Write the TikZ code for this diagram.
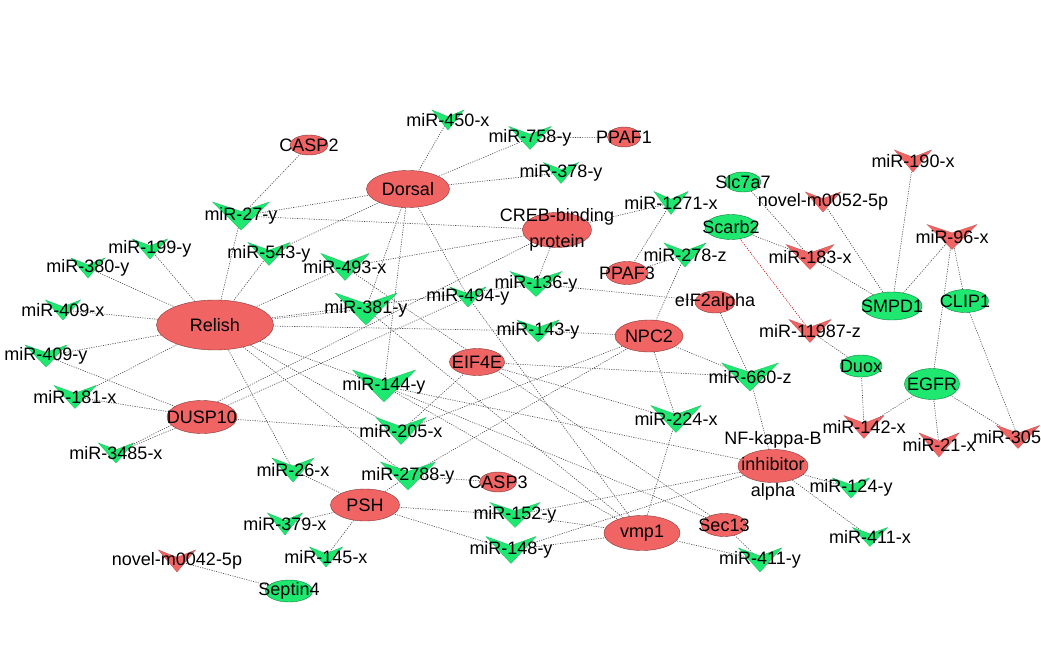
\documentclass[tikz,border=0pt]{standalone}
\usepackage{fontspec}
\setmainfont{Liberation Sans}
\definecolor{nred}{RGB}{240,100,100}
\definecolor{ngreen}{RGB}{30,232,112}
\definecolor{edgec}{RGB}{70,70,70}
\pgfdeclarelayer{bg}
\pgfdeclarelayer{fg}
\pgfsetlayers{bg,main,fg}
\tikzset{
  edge/.style={draw=edgec, line width=0.6pt, dash pattern=on 1.1pt off 1.3pt},
  redge/.style={edge, draw=red!80!black},
  lbl/.style={font=\fontsize{18}{26}\selectfont, inner sep=0pt, text=black, align=center},
}
% V-shaped miRNA node: name, width, height, colour, label
\newcommand{\vnode}[5]{%
  \filldraw[fill=#4, draw=#4!80!black, line width=0.3pt, shift={(#1)}]
    ({-#2/2},{-#3/2}) -- (0,{-#3/6}) -- ({#2/2},{-#3/2}) -- (0,{#3/2}) -- cycle;
  \begin{pgfonlayer}{fg}\node[lbl] at (#1) {#5};\end{pgfonlayer}}
% ellipse mRNA node: name, width, height, colour, label
\newcommand{\enode}[5]{%
  \filldraw[fill=#4, draw=#4!55!black, line width=0.4pt] (#1) ellipse [x radius={#2/2*1pt}, y radius={#3/2*1pt}];
  \begin{pgfonlayer}{fg}\node[lbl] at (#1) {#5};\end{pgfonlayer}}
\begin{document}
\begin{tikzpicture}[x=1pt, y=-1pt]
\useasboundingbox (0,0) rectangle (1041,655);
% ---------- positions: mRNA ----------
\coordinate (CASP2) at (309,145);
\coordinate (Dorsal) at (408,189);
\coordinate (Relish) at (215,325);
\coordinate (CREB) at (557,230);
\coordinate (PPAF1) at (624,137);
\coordinate (PPAF3) at (627,273);
\coordinate (eIF2) at (715,302);
\coordinate (NPC2) at (649,336);
\coordinate (EIF4E) at (477,362);
\coordinate (DUSP10) at (202,417);
\coordinate (NFKB) at (773,466);
\coordinate (CASP3) at (498,482);
\coordinate (PSH) at (365,505);
\coordinate (vmp1) at (642,533);
\coordinate (Sec13) at (724,525);
\coordinate (Slc7a7) at (743,182);
\coordinate (Scarb2) at (731,227);
\coordinate (SMPD1) at (892,306);
\coordinate (CLIP1) at (965,301);
\coordinate (Duox) at (861,366);
\coordinate (EGFR) at (932,384);
\coordinate (Septin4) at (289,591);
% ---------- positions: miRNA ----------
\coordinate (m450x) at (448,120);
\coordinate (m758y) at (530,138);
\coordinate (m378y) at (561,173);
\coordinate (m27y) at (241,216);
\coordinate (m199y) at (150,249);
\coordinate (m380y) at (88,268);
\coordinate (m543y) at (269,254);
\coordinate (m493x) at (345,267);
\coordinate (m409x) at (63,310);
\coordinate (m381y) at (366,309);
\coordinate (m494y) at (468,297);
\coordinate (m136y) at (536,284);
\coordinate (m1271x) at (671,203);
\coordinate (m278z) at (685,255);
\coordinate (m143y) at (538,331);
\coordinate (m409y) at (46,356);
\coordinate (m181x) at (75,397);
\coordinate (m144y) at (384,386);
\coordinate (m660z) at (750,377);
\coordinate (m205x) at (401,431);
\coordinate (m3485x) at (116,453);
\coordinate (m224x) at (676,419);
\coordinate (m26x) at (293,470);
\coordinate (m2788y) at (408,476);
\coordinate (m152y) at (515,515);
\coordinate (m379x) at (285,524);
\coordinate (m145x) at (326,557);
\coordinate (m148y) at (511,550);
\coordinate (m124y) at (851,488);
\coordinate (m411x) at (870,537);
\coordinate (m411y) at (760,560);
\coordinate (m190x) at (913,161);
\coordinate (n52) at (823,202);
\coordinate (m96x) at (952,237);
\coordinate (m183x) at (810,257);
\coordinate (m11987z) at (810,331);
\coordinate (m142x) at (864,427);
\coordinate (m21x) at (939,445);
\coordinate (m305) at (1018,437);
\coordinate (m305lbl) at (1007,437);
\coordinate (n42) at (177,561);
% ---------- edges ----------
\begin{pgfonlayer}{bg}
\fill[white] (0,0) rectangle (1041,655);
\draw[edge] (CASP2) -- (m27y);
\foreach \m in {m450x,m758y,m378y,m27y,m543y,m381y,m144y,m494y} \draw[edge] (Dorsal) -- (\m);
\draw[edge] (PPAF1) -- (m758y);
\foreach \m in {m199y,m380y,m409x,m409y,m181x,m27y,m543y,m493x,m381y,m136y,m143y,m144y,m26x,m205x,m2788y} \draw[edge] (Relish) -- (\m);
\foreach \m in {m27y,m493x,m1271x,m136y,m3485x} \draw[edge] (CREB) -- (\m);
\foreach \m in {m409y,m181x,m3485x,m205x,m494y} \draw[edge] (DUSP10) -- (\m);
\foreach \m in {m1271x,m278z} \draw[edge] (PPAF3) -- (\m);
\foreach \m in {m278z,m143y,m660z,m224x,m205x,m2788y} \draw[edge] (NPC2) -- (\m);
\foreach \m in {m136y,m660z} \draw[edge] (eIF2) -- (\m);
\foreach \m in {m205x,m660z,m224x} \draw[edge] (EIF4E) -- (\m);
\foreach \m in {m493x,m144y,m411y} \draw[edge] (Sec13) -- (\m);
\foreach \m in {m660z,m144y,m152y,m148y,m124y,m411x} \draw[edge] (NFKB) -- (\m);
\draw[edge] (CASP3) -- (m2788y);
\foreach \m in {m26x,m379x,m145x,m2788y,m152y,m148y} \draw[edge] (PSH) -- (\m);
\foreach \m in {m494y,m381y,m144y,m224x,m152y,m148y,m411y} \draw[edge] (vmp1) -- (\m);
\draw[edge] (Septin4) -- (n42);
\draw[edge] (Slc7a7) -- (m183x);
\draw[edge] (Scarb2) -- (m183x);
\draw[redge] (Scarb2) -- (m11987z);
\foreach \m in {m190x,n52,m183x,m96x} \draw[edge] (SMPD1) -- (\m);
\foreach \m in {m96x,m305} \draw[edge] (CLIP1) -- (\m);
\foreach \m in {m11987z,m142x} \draw[edge] (Duox) -- (\m);
\foreach \m in {m96x,m142x,m21x,m305} \draw[edge] (EGFR) -- (\m);
\end{pgfonlayer}
% ---------- mRNA nodes ----------
\enode{CASP2}{38}{20}{nred}{CASP2}
\enode{Dorsal}{83}{37}{nred}{Dorsal}
\enode{Relish}{117}{50}{nred}{Relish}
\enode{CREB}{69}{35}{nred}{CREB-binding\\protein}
\enode{PPAF1}{33}{20}{nred}{PPAF1}
\enode{PPAF3}{42}{23}{nred}{PPAF3}
\enode{eIF2}{40}{22}{nred}{eIF2alpha}
\enode{NPC2}{68}{32}{nred}{NPC2}
\enode{EIF4E}{55}{27}{nred}{EIF4E}
\enode{DUSP10}{70}{33}{nred}{DUSP10}
\enode{NFKB}{70}{33}{nred}{NF-kappa-B\\inhibitor\\alpha}
\enode{CASP3}{37}{20}{nred}{CASP3}
\enode{PSH}{69}{32}{nred}{PSH}
\enode{vmp1}{76}{35}{nred}{vmp1}
\enode{Sec13}{45}{23}{nred}{Sec13}
\enode{Slc7a7}{36}{20}{ngreen}{Slc7a7}
\enode{Scarb2}{52}{25}{ngreen}{Scarb2}
\enode{SMPD1}{60}{28}{ngreen}{SMPD1}
\enode{CLIP1}{47}{23}{ngreen}{CLIP1}
\enode{Duox}{42}{22}{ngreen}{Duox}
\enode{EGFR}{55}{31}{ngreen}{EGFR}
\enode{Septin4}{47}{22}{ngreen}{Septin4}
% ---------- miRNA nodes ----------
\vnode{m450x}{32}{20}{ngreen}{miR-450-x}
\vnode{m758y}{42}{23}{ngreen}{miR-758-y}
\vnode{m378y}{35}{21}{ngreen}{miR-378-y}
\vnode{m27y}{57}{28}{ngreen}{miR-27-y}
\vnode{m199y}{35}{20}{ngreen}{miR-199-y}
\vnode{m380y}{34}{20}{ngreen}{miR-380-y}
\vnode{m543y}{42}{23}{ngreen}{miR-543-y}
\vnode{m493x}{48}{27}{ngreen}{miR-493-x}
\vnode{m409x}{35}{20}{ngreen}{miR-409-x}
\vnode{m381y}{62}{32}{ngreen}{miR-381-y}
\vnode{m494y}{36}{20}{ngreen}{miR-494-y}
\vnode{m136y}{52}{25}{ngreen}{miR-136-y}
\vnode{m1271x}{34}{23}{ngreen}{miR-1271-x}
\vnode{m278z}{42}{24}{ngreen}{miR-278-z}
\vnode{m143y}{42}{22}{ngreen}{miR-143-y}
\vnode{m409y}{42}{22}{ngreen}{miR-409-y}
\vnode{m181x}{42}{23}{ngreen}{miR-181-x}
\vnode{m144y}{63}{32}{ngreen}{miR-144-y}
\vnode{m660z}{57}{28}{ngreen}{miR-660-z}
\vnode{m205x}{50}{27}{ngreen}{miR-205-x}
\vnode{m3485x}{35}{20}{ngreen}{miR-3485-x}
\vnode{m224x}{50}{27}{ngreen}{miR-224-x}
\vnode{m26x}{42}{24}{ngreen}{miR-26-x}
\vnode{m2788y}{55}{28}{ngreen}{miR-2788-y}
\vnode{m152y}{50}{25}{ngreen}{miR-152-y}
\vnode{m379x}{35}{22}{ngreen}{miR-379-x}
\vnode{m145x}{33}{20}{ngreen}{miR-145-x}
\vnode{m148y}{50}{27}{ngreen}{miR-148-y}
\vnode{m124y}{37}{20}{ngreen}{miR-124-y}
\vnode{m411x}{35}{19}{ngreen}{miR-411-x}
\vnode{m411y}{43}{24}{ngreen}{miR-411-y}
\vnode{m190x}{37}{22}{nred}{miR-190-x}
\vnode{n52}{35}{20}{nred}{novel-m0052-5p}
\vnode{m96x}{50}{25}{nred}{miR-96-x}
\vnode{m183x}{48}{25}{nred}{miR-183-x}
\vnode{m11987z}{42}{23}{nred}{miR-11987-z}
\vnode{m142x}{40}{23}{nred}{miR-142-x}
\vnode{m21x}{40}{24}{nred}{miR-21-x}
\vnode{m305}{43}{23}{nred}{}
\vnode{n42}{37}{22}{nred}{novel-m0042-5p}
\begin{pgfonlayer}{fg}\node[lbl] at (m305lbl) {miR-305};\end{pgfonlayer}
\end{tikzpicture}
\end{document}
